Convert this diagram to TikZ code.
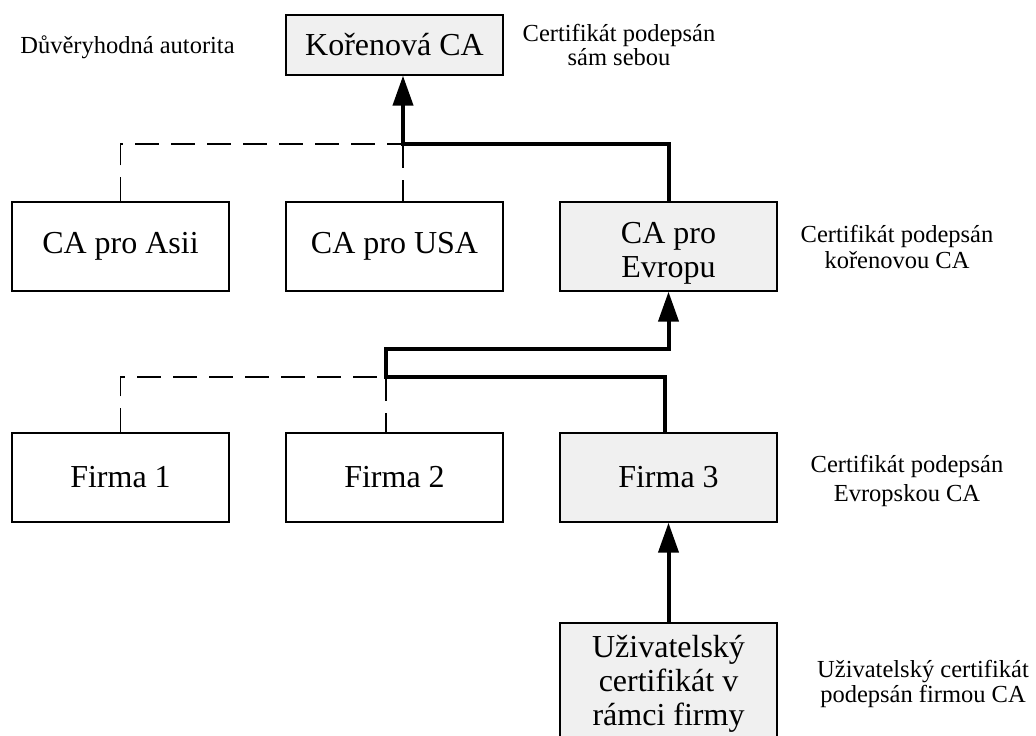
\documentclass[tikz,border=0pt]{standalone}
\usepackage{fontspec}
\setmainfont{Liberation Serif}
\usetikzlibrary{arrows.meta}
\definecolor{boxgray}{HTML}{F0F0F0}
\begin{document}
\begin{tikzpicture}[x=1pt,y=-1pt,
  box/.style={draw=black, line width=1.3pt, minimum width=217pt, minimum height=89pt,
    inner sep=0pt, align=center, font=\fontsize{32}{34}\selectfont},
  gbox/.style={box, fill=boxgray},
  link/.style={line width=4pt},
  arr/.style={link, -{Triangle[length=30pt,width=20pt]}},
  weak/.style={line width=1.3pt, dash pattern=on 24pt off 12pt},
  note/.style={font=\fontsize{24.5}{#1}\selectfont, align=center, anchor=base, inner sep=0pt},
]
\useasboundingbox (0,0) rectangle (1036,736);

% hierarchy of certification authorities
\node[gbox, minimum height=60pt] (root) at (394.5,45) {Kořenová CA};
\node[box]  (asia) at (120.5,246.5) {CA pro Asii};
\node[box]  (usa)  at (394.5,246.5) {CA pro USA};
\node[gbox, anchor=base, text height=75pt, text depth=14pt] (eu) at (668.5,277)
  {CA pro\\Evropu};
\node[box]  (f1) at (120.5,477.5) {Firma 1};
\node[box]  (f2) at (394.5,477.5) {Firma 2};
\node[gbox] (f3) at (668.5,477.5) {Firma 3};
% the user box runs on past the lower edge of the page
\node[gbox, anchor=base, text height=96pt, text depth=40pt, inner ysep=6pt] (user)
  at (668.5,725) {Uživatelský\\certifikát v\\rámci firmy};

% junction points of the connector buses
\coordinate (busA) at (403,144);
\coordinate (busB) at (386,377);
\coordinate (busC) at (386,349);

% unused signing paths (dashed)
\draw[weak] (asia.north) |- (busA);
\draw[weak] (busA) -- ([xshift=8.5pt]usa.north);
\draw[weak] (f1.north) |- (busB);
\draw[weak] (busB) -- ([xshift=-8.5pt]f2.north);

% chain of trust (thick)
\draw[arr] (eu.north) |- (busA) -- ([xshift=8.5pt]root.south);
\draw[arr] ([xshift=-3.5pt]f3.north) |- (busB) -- (busC) -| (eu.south);
\draw[arr] (user.north) -- (f3.south);

% annotations (anchored at the baseline of their last line)
\node[note=25] (trust) at (127.5,53) {Důvěryhodná autorita};
\node[note=24] (selfsig) at (619,65) {Certifikát podepsán\\sám sebou};
\node[note=26] (eusig) at (897,268) {Certifikát podepsán\\kořenovou CA};
\node[note=29] (f3sig) at (907,501) {Certifikát podepsán\\Evropskou CA};
\node[note=25] (usersig) at (923,702) {Uživatelský certifikát\\podepsán firmou CA};
\end{tikzpicture}
\end{document}
